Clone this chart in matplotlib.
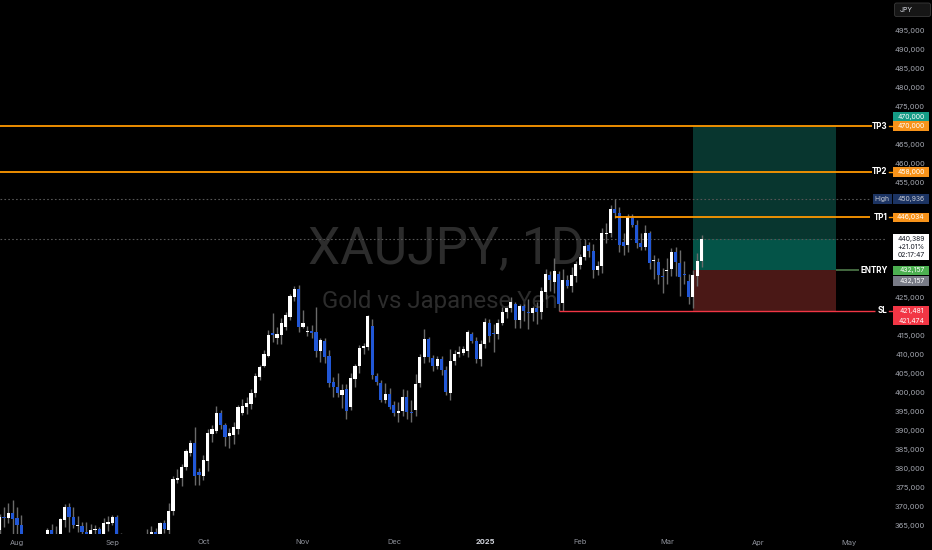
import numpy as np
import pandas as pd
import matplotlib
matplotlib.use('Agg')
import matplotlib.pyplot as plt
import matplotlib.transforms as mtransforms
from matplotlib.patches import Rectangle, FancyBboxPatch

plt.rcParams['font.family'] = ['Inter', 'DejaVu Sans']

# ---------------- data (prices in thousands of JPY) ----------------
opens = [364.0, 367.5, 367.1, 368.4, 367.0, 365.3, 357.5, 349.0, 354.0, 353.0,
         357.5, 361.0, 364.0, 362.0, 361.8, 366.6, 370.0, 367.4, 365.0, 365.0,
         363.5, 362.6, 364.0, 364.3, 362.3, 365.6, 365.9, 367.4, 361.5, 357.5,
         356.0, 357.5, 355.0, 356.5, 360.5, 362.6, 363.5, 363.0, 365.9, 364.0,
         369.0, 377.0, 377.6, 380.6, 384.3, 386.9, 379.1, 378.1, 382.2, 389.2,
         390.0, 394.8, 391.5, 388.6, 388.8, 390.4, 394.8, 396.3, 397.0, 399.9,
         404.2, 407.0, 409.7, 415.6, 414.3, 415.2, 417.3, 420.0, 425.2, 427.2,
         417.4, 416.0, 416.3, 416.0, 411.0, 413.7, 409.6, 402.9, 401.4, 399.4,
         400.9, 396.3, 403.5, 406.9, 411.7, 412.1, 417.5, 404.4, 402.5, 398.0,
         399.7, 396.7, 394.6, 395.3, 398.8, 395.0, 395.5, 402.5, 409.3, 414.0,
         409.1, 407.0, 408.8, 406.0, 400.0, 408.4, 410.2, 410.5, 411.0, 415.4,
         413.7, 408.8, 412.8, 418.4, 415.8, 415.4, 418.4, 421.3, 422.2, 423.3,
         419.1, 422.8, 421.2, 420.9, 422.2, 421.3, 426.5, 430.9, 429.2, 431.2,
         423.6, 429.6, 428.0, 430.6, 433.6, 435.6, 438.8, 437.3, 432.2, 433.3,
         441.6, 441.9, 448.2, 447.3, 439.7, 438.8, 445.8, 444.1, 439.4, 438.2,
         442.0, 434.5, 434.4, 430.6, 432.1, 432.4, 437.0, 434.0, 431.2, 429.4,
         425.1, 430.7, 434.7]
highs = [368.2, 370.0, 371.0, 371.8, 370.0, 367.9, 359.0, 356.0, 357.5, 359.0,
         361.5, 364.6, 365.5, 365.0, 367.0, 370.8, 371.0, 370.0, 367.6, 366.0,
         366.0, 365.5, 365.2, 364.8, 367.0, 367.6, 367.9, 367.8, 363.3, 359.5,
         358.5, 359.0, 357.5, 361.5, 364.2, 365.0, 364.5, 366.1, 366.5, 371.1,
         378.1, 379.9, 381.4, 385.2, 387.6, 390.9, 380.2, 383.7, 390.4, 391.5,
         396.5, 395.5, 392.1, 390.7, 392.4, 396.8, 398.3, 399.0, 400.9, 405.2,
         407.4, 411.2, 416.5, 420.9, 417.3, 419.7, 421.3, 426.0, 428.0, 428.3,
         421.7, 417.6, 417.8, 422.6, 414.3, 414.3, 411.2, 404.2, 405.2, 402.3,
         402.3, 405.2, 407.6, 412.5, 413.0, 420.4, 419.3, 405.3, 403.4, 402.5,
         401.3, 397.9, 397.6, 401.1, 400.6, 398.0, 404.8, 410.3, 416.7, 414.6,
         410.0, 409.6, 409.6, 406.9, 411.5, 411.3, 412.3, 412.3, 416.5, 416.0,
         414.7, 413.9, 419.6, 419.4, 418.1, 419.4, 422.4, 422.6, 425.2, 423.9,
         423.4, 423.2, 424.6, 422.8, 423.9, 427.7, 432.4, 432.1, 435.3, 432.1,
         432.6, 430.9, 433.0, 434.6, 436.5, 440.4, 439.7, 439.1, 434.6, 443.2,
         444.5, 449.3, 450.936, 448.9, 441.9, 446.9, 446.9, 445.4, 442.0, 444.1,
         442.5, 436.2, 435.4, 432.7, 435.3, 438.1, 438.4, 437.6, 434.7, 431.2,
         432.2, 436.7, 441.4]
lows = [362.5, 364.8, 365.8, 363.0, 363.0, 355.0, 344.0, 347.5, 351.0, 352.0,
        356.0, 360.0, 361.0, 360.0, 361.0, 364.8, 363.5, 364.5, 363.5, 363.0,
        362.0, 361.5, 362.0, 361.5, 361.5, 363.8, 365.3, 361.0, 356.5, 355.0,
        354.5, 354.0, 353.5, 355.5, 359.5, 361.5, 362.0, 362.0, 363.3, 363.0,
        367.9, 376.2, 375.6, 379.7, 383.3, 375.8, 375.8, 377.1, 379.4, 387.2,
        389.4, 390.6, 386.0, 385.5, 386.6, 389.2, 394.2, 394.4, 395.7, 398.8,
        403.4, 406.7, 409.4, 413.4, 412.8, 412.8, 416.4, 419.0, 424.0, 416.0,
        416.9, 415.0, 414.5, 409.3, 408.0, 407.8, 401.4, 398.8, 399.0, 395.9,
        393.2, 395.6, 401.6, 405.3, 410.3, 411.2, 403.5, 402.1, 397.6, 397.3,
        395.8, 393.9, 392.2, 393.8, 393.1, 392.2, 393.9, 401.6, 407.9, 408.1,
        405.6, 406.2, 404.7, 399.4, 398.2, 407.2, 409.4, 410.0, 409.3, 413.0,
        407.7, 406.9, 411.8, 413.2, 410.8, 414.1, 417.7, 419.6, 421.2, 417.0,
        417.0, 418.9, 416.8, 418.9, 418.0, 419.3, 424.7, 426.8, 426.1, 421.474,
        421.6, 427.5, 426.5, 429.0, 432.6, 434.9, 435.6, 430.2, 430.8, 431.4,
        439.3, 441.0, 445.8, 437.0, 436.2, 437.0, 443.4, 437.9, 437.5, 437.5,
        432.4, 430.0, 428.6, 426.3, 428.6, 430.7, 430.7, 425.3, 428.5, 423.4,
        422.2, 428.1, 433.0]
closes = [367.5, 367.2, 368.4, 366.9, 365.3, 357.5, 349.0, 354.0, 353.0, 357.5,
          361.0, 364.0, 362.0, 361.8, 366.8, 370.0, 367.4, 365.3, 365.2, 363.4,
          362.8, 364.0, 364.3, 362.3, 365.8, 366.1, 367.4, 361.5, 357.5, 356.0,
          357.5, 355.0, 356.5, 360.5, 362.5, 363.5, 363.0, 365.9, 364.1, 369.0,
          377.3, 377.6, 380.6, 384.7, 386.9, 378.1, 378.3, 382.3, 389.5, 390.5,
          394.6, 391.5, 388.5, 389.5, 390.9, 396.2, 396.5, 397.4, 400.0, 404.4,
          406.8, 410.2, 415.2, 415.2, 415.4, 418.4, 420.4, 425.4, 427.2, 417.2,
          418.3, 416.1, 415.8, 411.0, 413.8, 409.4, 402.6, 401.6, 399.9, 400.7,
          395.3, 404.0, 407.0, 411.7, 412.3, 420.2, 404.7, 402.9, 398.1, 399.7,
          396.3, 394.6, 395.3, 399.0, 395.0, 394.8, 402.3, 409.3, 414.0, 409.4,
          406.9, 408.8, 406.0, 400.3, 408.3, 410.2, 410.8, 411.4, 416.0, 413.7,
          408.8, 412.8, 418.7, 414.9, 415.3, 418.4, 421.3, 422.2, 423.9, 419.1,
          422.8, 421.5, 420.9, 422.2, 421.3, 426.8, 431.2, 429.6, 432.1, 423.3,
          429.6, 428.0, 430.9, 433.8, 435.6, 438.5, 437.3, 432.2, 433.3, 441.9,
          441.9, 448.2, 447.1, 438.8, 438.5, 446.1, 444.1, 439.3, 438.2, 442.0,
          434.2, 434.7, 430.9, 430.3, 432.3, 437.0, 434.4, 430.5, 430.9, 425.1,
          430.8, 434.7, 440.389]

start_date = '2024-07-26'
end_date = '2025-05-09'
closed_days = ['2024-12-25', '2025-01-01', '2025-04-18']
month_names = ['Jan', 'Feb', 'Mar', 'Apr', 'May', 'Jun',
               'Jul', 'Aug', 'Sep', 'Oct', 'Nov', 'Dec']

symbol_title = 'XAUJPY, 1D'
symbol_desc = 'Gold vs Japanese Yen'
currency = 'JPY'

tp3, tp2, tp1 = 470000, 458000, 446034
entry_price, stop_price = 432157, 421481
high_price = 450936
last_price = 440389
change_text = '+21.01%'
countdown_text = '02:17:47'
low_tag_price = 421474
box_start_bar, box_end_bar = 160, 193
tp1_start_bar, sl_start_bar = 142, 129
ytick_values = list(range(365000, 500000, 5000))

# ---------------- figure ----------------
W, H = 932, 550
fig = plt.figure(figsize=(W / 100, H / 100), dpi=100, facecolor='black')
ax = fig.add_axes([0, (H - 534) / H, 887 / W, 534 / H])
ax.set_facecolor('black')
for s in ax.spines.values():
    s.set_visible(False)
ax.set_xticks([])
ax.set_yticks([])
ax.set_xlim(0.076, 204.78)
ax.set_ylim(362910, 503141)

pix = mtransforms.Affine2D().scale(1 / W, -1 / H).translate(0, 1) + fig.transFigure
bx = mtransforms.blended_transform_factory(pix, ax.transData)   # x pixels, y data
xb = mtransforms.blended_transform_factory(ax.transData, pix)   # x data, y pixels


def ypx(p):
    return H - ax.transData.transform((0, p))[1]


def xpx(i):
    return ax.transData.transform((i, 0))[0]


o = np.array(opens) * 1000
h = np.array(highs) * 1000
l = np.array(lows) * 1000
c = np.array(closes) * 1000
idx = np.arange(len(o))

# watermark
ax.text(446, 263, symbol_title, transform=pix, ha='center', va='baseline',
        fontsize=37, color='#2c2c2c', zorder=0, family=['Roboto', 'DejaVu Sans'])
ax.text(440, 308, symbol_desc, transform=pix, ha='center', va='baseline',
        fontsize=17.3, color='#2c2c2c', zorder=0, family=['Roboto', 'DejaVu Sans'])

# position tool boxes
bw = box_end_bar - box_start_bar
ax.add_patch(Rectangle((box_start_bar, entry_price), bw, tp3 - entry_price,
                       facecolor='#08362f', edgecolor='none', zorder=1))
ax.add_patch(Rectangle((box_start_bar, entry_price), bw, last_price - entry_price,
                       facecolor='#045448', edgecolor='none', zorder=1.1))
ax.add_patch(Rectangle((box_start_bar, stop_price), bw, entry_price - stop_price,
                       facecolor='#4a1816', edgecolor='none', zorder=1))

# dotted lines
ax.plot([0, 870], [high_price] * 2, transform=bx, color='#555555', lw=0.8,
        ls=(0, (1.5, 2)), zorder=1.5)
ax.plot([0, 887], [last_price] * 2, transform=bx, color='#555555', lw=0.8,
        ls=(0, (1.5, 2)), zorder=1.5)

# candles
up = c >= o
body_col = np.where(up, '#ffffff', '#2157d6')
ax.vlines(idx, l, h, colors='#6a6a6a', lw=1.0, zorder=2)
ax.bar(idx, np.maximum(np.abs(c - o), 260), bottom=np.minimum(o, c), width=0.7,
       color=body_col, linewidth=0, zorder=3)

# target / stop lines
orange = '#ff9800'
lab_fs = 5.8
for val, lab in [(tp3, 'TP3'), (tp2, 'TP2')]:
    ax.plot([0, 872], [val] * 2, transform=bx, color=orange, lw=1.3, zorder=4,
            solid_capstyle='butt')
    ax.plot([889, 893], [val] * 2, transform=bx, color=orange, lw=1.0, zorder=4,
            clip_on=False)
    ax.text(887.5, ypx(val), lab, transform=pix, ha='right', va='center',
            fontsize=lab_fs, fontweight='bold', color='white', zorder=6, clip_on=False)

ax.plot([xpx(tp1_start_bar), 870], [tp1] * 2, transform=bx, color=orange, lw=1.3,
        zorder=4, solid_capstyle='butt')
ax.plot([889, 893], [tp1] * 2, transform=bx, color=orange, lw=1.0, zorder=4, clip_on=False)
ax.text(887.5, ypx(tp1), 'TP1', transform=pix, ha='right', va='center', fontsize=lab_fs,
        fontweight='bold', color='white', zorder=6, clip_on=False)

ax.plot([xpx(sl_start_bar), 875], [stop_price] * 2, transform=bx, color='#f23645',
        lw=1.0, zorder=4, solid_capstyle='butt')
ax.plot([889, 893], [stop_price] * 2, transform=bx, color='#f23645', lw=1.0, zorder=4,
        clip_on=False)
ax.text(887.5, ypx(stop_price), 'SL', transform=pix, ha='right', va='center',
        fontsize=lab_fs, fontweight='bold', color='white', zorder=6, clip_on=False)

ax.plot([xpx(box_end_bar), 859], [entry_price] * 2, transform=bx, color='#4f7a4a',
        lw=1.2, zorder=4, solid_capstyle='butt')
ax.text(887.5, ypx(entry_price), 'ENTRY', transform=pix, ha='right', va='center',
        fontsize=lab_fs, fontweight='bold', color='white', zorder=6, clip_on=False)

# ---------------- right price axis ----------------
tag_centers = []


def tag(yc, text, fc, tc='white', x0=893, x1=928.5, hh=9.5, fs=4.9):
    ax.add_patch(Rectangle((x0, yc - hh / 2), x1 - x0, hh, transform=pix, facecolor=fc,
                           edgecolor='none', clip_on=False, zorder=20))
    ax.text(x1 - 4, yc, text, transform=pix, ha='right', va='center', fontsize=fs,
            color=tc, zorder=21, clip_on=False)
    tag_centers.append(yc)


tag(ypx(tp3) - 9.5, f'{tp3:,}', '#159c86')
tag(ypx(tp3), f'{tp3:,}', '#f7931a')
tag(ypx(tp2), f'{tp2:,}', '#f7931a')
tag(ypx(high_price), f'{high_price:,}', '#1c3463', tc='#c8cbd4')
ax.add_patch(Rectangle((872.5, ypx(high_price) - 4.75), 19.5, 9.5, transform=pix,
                       facecolor='#1c3463', edgecolor='none', clip_on=False, zorder=20))
ax.text(882.2, ypx(high_price), 'High', transform=pix, ha='center', va='center',
        fontsize=4.9, color='#c8cbd4', zorder=21, clip_on=False)
tag(ypx(tp1), f'{tp1:,}', '#f7931a')
tag(ypx(entry_price), f'{entry_price:,}', '#4caf50')
tag(ypx(entry_price) + 10.5, f'{entry_price:,}', '#787b86')
tag(ypx(stop_price), f'{stop_price:,}', '#f23645')
tag(ypx(stop_price) + 9.7, f'{low_tag_price:,}', '#f23645')

# last price box
yl = ypx(last_price)
ax.add_patch(Rectangle((893, yl - 4.5), 35.5, 25.5, transform=pix, facecolor='white',
                       edgecolor='none', clip_on=False, zorder=20))
for k, s in enumerate([f'{last_price:,}', change_text, countdown_text]):
    ax.text(924.5, yl + k * 7.8, s, transform=pix, ha='right', va='center', fontsize=4.9,
            color='#131722', zorder=21, clip_on=False)
box_range = (yl - 10, yl + 26)

for v in ytick_values:
    y = ypx(v)
    if any(abs(y - t) < 6 for t in tag_centers):
        continue
    if box_range[0] < y < box_range[1]:
        continue
    ax.text(925, y, f'{v:,}', transform=pix, ha='right', va='center', fontsize=5.4,
            color='#a3a6af', zorder=5, clip_on=False)

# currency box
ax.add_patch(FancyBboxPatch((894.5, 3), 36, 13.5, boxstyle='round,pad=0,rounding_size=2',
                            transform=pix, facecolor='#161616', edgecolor='#3a3a3a',
                            lw=0.6, clip_on=False, zorder=20))
ax.text(900, 9.8, currency, transform=pix, ha='left', va='center', fontsize=4.9,
        color='#e0e3eb', zorder=21, clip_on=False)

# ---------------- bottom time axis ----------------
days = pd.bdate_range(start_date, end_date)
days = days[~days.isin(pd.to_datetime(closed_days))]
prev_month = days[0].month
for i, d in enumerate(days):
    if i > 0 and d.month != prev_month:
        if d.month == 1:
            ax.text(i, 542.5, str(d.year), transform=xb, ha='center', va='center',
                    fontsize=5.4, fontweight='bold', color='#d1d4dc', clip_on=False)
        else:
            ax.text(i, 542.5, month_names[d.month - 1], transform=xb, ha='center',
                    va='center', fontsize=5.4, color='#8f929b', clip_on=False)
    prev_month = d.month

fig.savefig('out.png', dpi=100, facecolor='black')
